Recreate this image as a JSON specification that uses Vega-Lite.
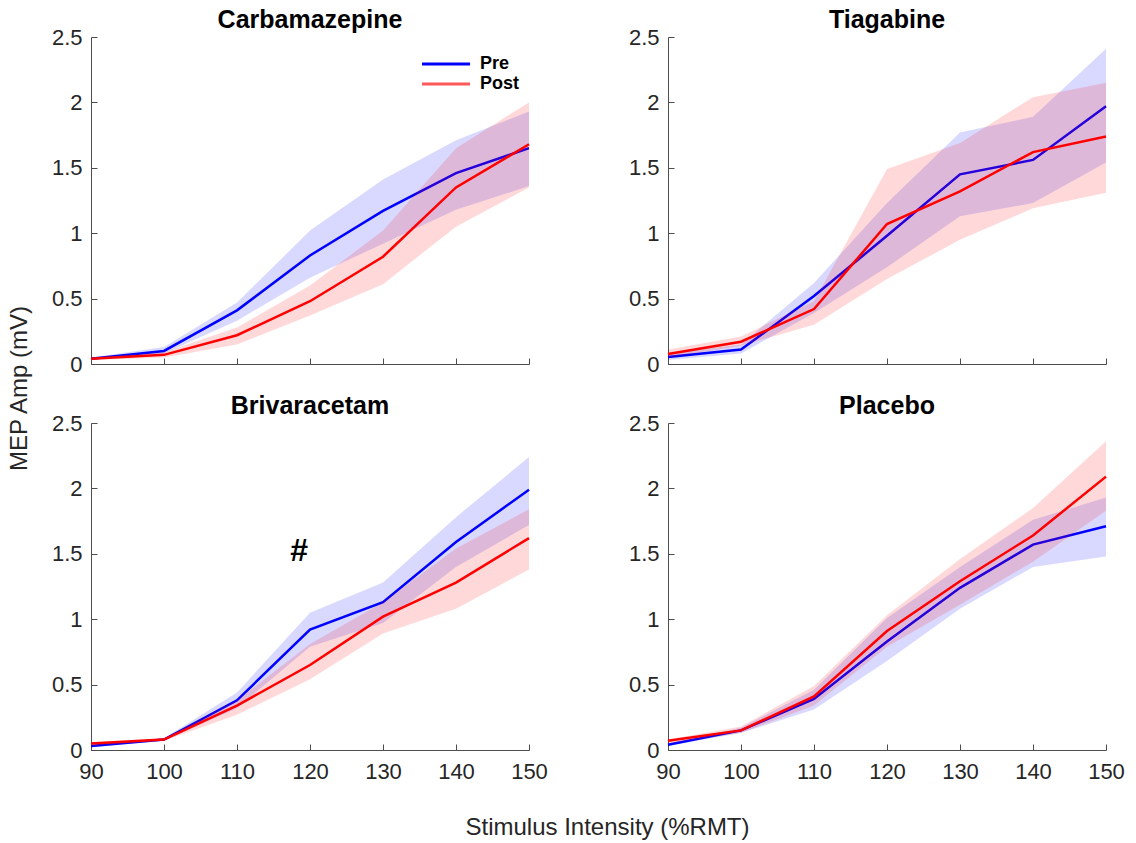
{
  "$schema": "https://vega.github.io/schema/vega-lite/v6.json",
  "padding": {"left": 7, "top": 8, "right": 5, "bottom": 5},
  "background": "white",
  "config": {
    "font": "Liberation Sans",
    "view": {"stroke": null},
    "axis": {
      "grid": false,
      "domainColor": "#4d4d4d",
      "tickColor": "#4d4d4d",
      "domainWidth": 1,
      "tickWidth": 1,
      "tickSize": -6,
      "labelColor": "#262626",
      "labelFont": "Liberation Sans",
      "labelFontSize": 22,
      "labelFlush": false,
      "titleColor": "#262626",
      "titleFont": "Liberation Sans",
      "titleFontSize": 24,
      "titleFontWeight": "normal"
    },
    "axisX": {"labelPadding": 17},
    "axisY": {"labelPadding": 15},
    "title": {"font": "Liberation Sans", "fontSize": 25, "fontWeight": "bold", "color": "#000000", "offset": -7, "frame": "group"}
  },
  "datasets": {
    "mep": [
      {"drug": "Carbamazepine", "group": "Pre", "x": 90, "y": 0.04, "lo": 0.03, "hi": 0.05},
      {"drug": "Carbamazepine", "group": "Pre", "x": 100, "y": 0.10, "lo": 0.08, "hi": 0.13},
      {"drug": "Carbamazepine", "group": "Pre", "x": 110, "y": 0.41, "lo": 0.33, "hi": 0.47},
      {"drug": "Carbamazepine", "group": "Pre", "x": 120, "y": 0.83, "lo": 0.66, "hi": 1.02},
      {"drug": "Carbamazepine", "group": "Pre", "x": 130, "y": 1.17, "lo": 0.92, "hi": 1.41},
      {"drug": "Carbamazepine", "group": "Pre", "x": 140, "y": 1.46, "lo": 1.18, "hi": 1.71},
      {"drug": "Carbamazepine", "group": "Pre", "x": 150, "y": 1.65, "lo": 1.36, "hi": 1.93},
      {"drug": "Carbamazepine", "group": "Post", "x": 90, "y": 0.04, "lo": 0.03, "hi": 0.05},
      {"drug": "Carbamazepine", "group": "Post", "x": 100, "y": 0.07, "lo": 0.05, "hi": 0.09},
      {"drug": "Carbamazepine", "group": "Post", "x": 110, "y": 0.22, "lo": 0.15, "hi": 0.28},
      {"drug": "Carbamazepine", "group": "Post", "x": 120, "y": 0.48, "lo": 0.37, "hi": 0.60},
      {"drug": "Carbamazepine", "group": "Post", "x": 130, "y": 0.82, "lo": 0.61, "hi": 1.02},
      {"drug": "Carbamazepine", "group": "Post", "x": 140, "y": 1.35, "lo": 1.05, "hi": 1.65},
      {"drug": "Carbamazepine", "group": "Post", "x": 150, "y": 1.68, "lo": 1.35, "hi": 2.00},
      {"drug": "Tiagabine", "group": "Pre", "x": 90, "y": 0.054, "lo": 0.03, "hi": 0.08},
      {"drug": "Tiagabine", "group": "Pre", "x": 100, "y": 0.11, "lo": 0.08, "hi": 0.15},
      {"drug": "Tiagabine", "group": "Pre", "x": 110, "y": 0.52, "lo": 0.39, "hi": 0.62},
      {"drug": "Tiagabine", "group": "Pre", "x": 120, "y": 0.98, "lo": 0.74, "hi": 1.23},
      {"drug": "Tiagabine", "group": "Pre", "x": 130, "y": 1.45, "lo": 1.13, "hi": 1.77},
      {"drug": "Tiagabine", "group": "Pre", "x": 140, "y": 1.56, "lo": 1.23, "hi": 1.89},
      {"drug": "Tiagabine", "group": "Pre", "x": 150, "y": 1.97, "lo": 1.54, "hi": 2.41},
      {"drug": "Tiagabine", "group": "Post", "x": 90, "y": 0.077, "lo": 0.05, "hi": 0.11},
      {"drug": "Tiagabine", "group": "Post", "x": 100, "y": 0.17, "lo": 0.14, "hi": 0.21},
      {"drug": "Tiagabine", "group": "Post", "x": 110, "y": 0.42, "lo": 0.30, "hi": 0.48},
      {"drug": "Tiagabine", "group": "Post", "x": 120, "y": 1.07, "lo": 0.65, "hi": 1.49},
      {"drug": "Tiagabine", "group": "Post", "x": 130, "y": 1.32, "lo": 0.95, "hi": 1.69},
      {"drug": "Tiagabine", "group": "Post", "x": 140, "y": 1.62, "lo": 1.19, "hi": 2.04},
      {"drug": "Tiagabine", "group": "Post", "x": 150, "y": 1.74, "lo": 1.31, "hi": 2.15},
      {"drug": "Brivaracetam", "group": "Pre", "x": 90, "y": 0.03, "lo": 0.02, "hi": 0.04},
      {"drug": "Brivaracetam", "group": "Pre", "x": 100, "y": 0.08, "lo": 0.07, "hi": 0.09},
      {"drug": "Brivaracetam", "group": "Pre", "x": 110, "y": 0.38, "lo": 0.32, "hi": 0.44},
      {"drug": "Brivaracetam", "group": "Pre", "x": 120, "y": 0.92, "lo": 0.79, "hi": 1.05},
      {"drug": "Brivaracetam", "group": "Pre", "x": 130, "y": 1.13, "lo": 0.97, "hi": 1.28},
      {"drug": "Brivaracetam", "group": "Pre", "x": 140, "y": 1.59, "lo": 1.40, "hi": 1.78},
      {"drug": "Brivaracetam", "group": "Pre", "x": 150, "y": 1.99, "lo": 1.72, "hi": 2.24},
      {"drug": "Brivaracetam", "group": "Post", "x": 90, "y": 0.05, "lo": 0.03, "hi": 0.06},
      {"drug": "Brivaracetam", "group": "Post", "x": 100, "y": 0.08, "lo": 0.07, "hi": 0.09},
      {"drug": "Brivaracetam", "group": "Post", "x": 110, "y": 0.34, "lo": 0.27, "hi": 0.38},
      {"drug": "Brivaracetam", "group": "Post", "x": 120, "y": 0.65, "lo": 0.54, "hi": 0.81},
      {"drug": "Brivaracetam", "group": "Post", "x": 130, "y": 1.02, "lo": 0.89, "hi": 1.13},
      {"drug": "Brivaracetam", "group": "Post", "x": 140, "y": 1.28, "lo": 1.08, "hi": 1.54},
      {"drug": "Brivaracetam", "group": "Post", "x": 150, "y": 1.62, "lo": 1.38, "hi": 1.84},
      {"drug": "Placebo", "group": "Pre", "x": 90, "y": 0.04, "lo": 0.03, "hi": 0.05},
      {"drug": "Placebo", "group": "Pre", "x": 100, "y": 0.15, "lo": 0.13, "hi": 0.17},
      {"drug": "Placebo", "group": "Pre", "x": 110, "y": 0.39, "lo": 0.31, "hi": 0.46},
      {"drug": "Placebo", "group": "Pre", "x": 120, "y": 0.83, "lo": 0.68, "hi": 1.01},
      {"drug": "Placebo", "group": "Pre", "x": 130, "y": 1.24, "lo": 1.08, "hi": 1.40},
      {"drug": "Placebo", "group": "Pre", "x": 140, "y": 1.57, "lo": 1.40, "hi": 1.76},
      {"drug": "Placebo", "group": "Pre", "x": 150, "y": 1.71, "lo": 1.48, "hi": 1.93},
      {"drug": "Placebo", "group": "Post", "x": 90, "y": 0.07, "lo": 0.05, "hi": 0.08},
      {"drug": "Placebo", "group": "Post", "x": 100, "y": 0.15, "lo": 0.13, "hi": 0.18},
      {"drug": "Placebo", "group": "Post", "x": 110, "y": 0.41, "lo": 0.34, "hi": 0.49},
      {"drug": "Placebo", "group": "Post", "x": 120, "y": 0.91, "lo": 0.79, "hi": 1.03},
      {"drug": "Placebo", "group": "Post", "x": 130, "y": 1.29, "lo": 1.11, "hi": 1.46},
      {"drug": "Placebo", "group": "Post", "x": 140, "y": 1.64, "lo": 1.44, "hi": 1.85},
      {"drug": "Placebo", "group": "Post", "x": 150, "y": 2.09, "lo": 1.83, "hi": 2.36}
    ],
    "ann": [{"x": 118.5, "y": 1.52, "t": "#"}]
  },
  "resolve": {"scale": {"stroke": "independent"}, "legend": {"stroke": "independent"}},
  "columns": 2,
  "spacing": {"row": 59, "column": 139},
  "bounds": "flush",
  "concat": [
    {
      "width": 438, "height": 327,
      "title": "Carbamazepine",
      "data": {"name": "mep"},
      "encoding": {
        "x": {"field": "x", "type": "quantitative", "scale": {"domain": [90, 150]}, "axis": {"values": [90, 100, 110, 120, 130, 140, 150], "labels": false, "title": null}}
      },
      "layer": [
        {"transform": [{"filter": "datum.drug === 'Carbamazepine' && datum.group === 'Pre'"}],
         "mark": {"type": "area", "fill": "#0000ff", "fillOpacity": 0.15},
         "encoding": {"y": {"field": "lo", "type": "quantitative", "scale": {"domain": [0, 2.5]}, "axis": {"values": [0, 0.5, 1, 1.5, 2, 2.5], "format": "~g", "title": "MEP Amp (mV)", "titleX": -72, "titleY": 351, "titleAngle": 270, "titleAlign": "center", "titleBaseline": "middle"}}, "y2": {"field": "hi"}}},
        {"transform": [{"filter": "datum.drug === 'Carbamazepine' && datum.group === 'Pre'"}],
         "mark": {"type": "line", "strokeWidth": 2.5},
         "encoding": {"y": {"field": "y", "type": "quantitative", "scale": {"domain": [0, 2.5]}, "axis": {"values": [0, 0.5, 1, 1.5, 2, 2.5], "format": "~g", "title": "MEP Amp (mV)", "titleX": -72, "titleY": 351, "titleAngle": 270, "titleAlign": "center", "titleBaseline": "middle"}},
           "stroke": {"field": "group", "type": "nominal", "scale": {"domain": ["Pre", "Post"], "range": ["#0000ff", "#ff0000"]},
             "legend": {"title": null, "orient": "none", "legendX": 346, "legendY": 18, "symbolType": "M-4.8,0H4.8", "symbolSize": 100, "symbolStrokeWidth": 3, "labelFontSize": 18, "labelFontWeight": "bold", "labelColor": "#000000", "labelFont": "Liberation Sans", "labelOffset": 25, "rowPadding": 2, "padding": 0,
               "encode": {"symbols": {"update": {"opacity": {"signal": "datum.value === 'Post' ? 0.65 : 1"}}}}}}}},
        {"transform": [{"filter": "datum.drug === 'Carbamazepine' && datum.group === 'Post'"}],
         "mark": {"type": "area", "fill": "#ff0000", "fillOpacity": 0.15},
         "encoding": {"y": {"field": "lo", "type": "quantitative", "scale": {"domain": [0, 2.5]}, "axis": {"values": [0, 0.5, 1, 1.5, 2, 2.5], "format": "~g", "title": "MEP Amp (mV)", "titleX": -72, "titleY": 351, "titleAngle": 270, "titleAlign": "center", "titleBaseline": "middle"}}, "y2": {"field": "hi"}}},
        {"transform": [{"filter": "datum.drug === 'Carbamazepine' && datum.group === 'Post'"}],
         "mark": {"type": "line", "strokeWidth": 2.5},
         "encoding": {"y": {"field": "y", "type": "quantitative", "scale": {"domain": [0, 2.5]}, "axis": {"values": [0, 0.5, 1, 1.5, 2, 2.5], "format": "~g", "title": "MEP Amp (mV)", "titleX": -72, "titleY": 351, "titleAngle": 270, "titleAlign": "center", "titleBaseline": "middle"}},
           "stroke": {"field": "group", "type": "nominal", "scale": {"domain": ["Pre", "Post"], "range": ["#0000ff", "#ff0000"]},
             "legend": {"title": null, "orient": "none", "legendX": 346, "legendY": 18, "symbolType": "M-4.8,0H4.8", "symbolSize": 100, "symbolStrokeWidth": 3, "labelFontSize": 18, "labelFontWeight": "bold", "labelColor": "#000000", "labelFont": "Liberation Sans", "labelOffset": 25, "rowPadding": 2, "padding": 0,
               "encode": {"symbols": {"update": {"opacity": {"signal": "datum.value === 'Post' ? 0.65 : 1"}}}}}}}}
      ]
    },
    {
      "width": 438, "height": 327,
      "title": "Tiagabine",
      "data": {"name": "mep"},
      "encoding": {
        "x": {"field": "x", "type": "quantitative", "scale": {"domain": [90, 150]}, "axis": {"values": [90, 100, 110, 120, 130, 140, 150], "labels": false, "title": null}}
      },
      "layer": [
        {"transform": [{"filter": "datum.drug === 'Tiagabine' && datum.group === 'Pre'"}],
         "mark": {"type": "area", "fill": "#0000ff", "fillOpacity": 0.15},
         "encoding": {"y": {"field": "lo", "type": "quantitative", "scale": {"domain": [0, 2.5]}, "axis": {"values": [0, 0.5, 1, 1.5, 2, 2.5], "format": "~g", "title": null}}, "y2": {"field": "hi"}}},
        {"transform": [{"filter": "datum.drug === 'Tiagabine' && datum.group === 'Pre'"}],
         "mark": {"type": "line", "strokeWidth": 2.5},
         "encoding": {"y": {"field": "y", "type": "quantitative", "scale": {"domain": [0, 2.5]}, "axis": {"values": [0, 0.5, 1, 1.5, 2, 2.5], "format": "~g", "title": null}},
           "stroke": {"field": "group", "type": "nominal", "scale": {"domain": ["Pre", "Post"], "range": ["#0000ff", "#ff0000"]}, "legend": null}}},
        {"transform": [{"filter": "datum.drug === 'Tiagabine' && datum.group === 'Post'"}],
         "mark": {"type": "area", "fill": "#ff0000", "fillOpacity": 0.15},
         "encoding": {"y": {"field": "lo", "type": "quantitative", "scale": {"domain": [0, 2.5]}, "axis": {"values": [0, 0.5, 1, 1.5, 2, 2.5], "format": "~g", "title": null}}, "y2": {"field": "hi"}}},
        {"transform": [{"filter": "datum.drug === 'Tiagabine' && datum.group === 'Post'"}],
         "mark": {"type": "line", "strokeWidth": 2.5},
         "encoding": {"y": {"field": "y", "type": "quantitative", "scale": {"domain": [0, 2.5]}, "axis": {"values": [0, 0.5, 1, 1.5, 2, 2.5], "format": "~g", "title": null}},
           "stroke": {"field": "group", "type": "nominal", "scale": {"domain": ["Pre", "Post"], "range": ["#0000ff", "#ff0000"]}, "legend": null}}}
      ]
    },
    {
      "width": 438, "height": 327,
      "title": "Brivaracetam",
      "data": {"name": "mep"},
      "encoding": {
        "x": {"field": "x", "type": "quantitative", "scale": {"domain": [90, 150]}, "axis": {"values": [90, 100, 110, 120, 130, 140, 150], "format": "d", "title": "Stimulus Intensity (%RMT)", "titleX": 516, "titleY": 77, "titleAlign": "center", "titleBaseline": "middle"}}
      },
      "layer": [
        {"transform": [{"filter": "datum.drug === 'Brivaracetam' && datum.group === 'Pre'"}],
         "mark": {"type": "area", "fill": "#0000ff", "fillOpacity": 0.15},
         "encoding": {"y": {"field": "lo", "type": "quantitative", "scale": {"domain": [0, 2.5]}, "axis": {"values": [0, 0.5, 1, 1.5, 2, 2.5], "format": "~g", "title": null}}, "y2": {"field": "hi"}}},
        {"transform": [{"filter": "datum.drug === 'Brivaracetam' && datum.group === 'Pre'"}],
         "mark": {"type": "line", "strokeWidth": 2.5},
         "encoding": {"y": {"field": "y", "type": "quantitative", "scale": {"domain": [0, 2.5]}, "axis": {"values": [0, 0.5, 1, 1.5, 2, 2.5], "format": "~g", "title": null}},
           "stroke": {"field": "group", "type": "nominal", "scale": {"domain": ["Pre", "Post"], "range": ["#0000ff", "#ff0000"]}, "legend": null}}},
        {"transform": [{"filter": "datum.drug === 'Brivaracetam' && datum.group === 'Post'"}],
         "mark": {"type": "area", "fill": "#ff0000", "fillOpacity": 0.15},
         "encoding": {"y": {"field": "lo", "type": "quantitative", "scale": {"domain": [0, 2.5]}, "axis": {"values": [0, 0.5, 1, 1.5, 2, 2.5], "format": "~g", "title": null}}, "y2": {"field": "hi"}}},
        {"transform": [{"filter": "datum.drug === 'Brivaracetam' && datum.group === 'Post'"}],
         "mark": {"type": "line", "strokeWidth": 2.5},
         "encoding": {"y": {"field": "y", "type": "quantitative", "scale": {"domain": [0, 2.5]}, "axis": {"values": [0, 0.5, 1, 1.5, 2, 2.5], "format": "~g", "title": null}},
           "stroke": {"field": "group", "type": "nominal", "scale": {"domain": ["Pre", "Post"], "range": ["#0000ff", "#ff0000"]}, "legend": null}}},
        {"data": {"name": "ann"},
         "mark": {"type": "text", "fontSize": 32, "fontWeight": "bold", "font": "Liberation Sans", "color": "#000000", "baseline": "middle", "align": "center"},
         "encoding": {"y": {"field": "y", "type": "quantitative", "scale": {"domain": [0, 2.5]}, "axis": {"values": [0, 0.5, 1, 1.5, 2, 2.5], "format": "~g", "title": null}}, "text": {"field": "t"}}}
      ]
    },
    {
      "width": 438, "height": 327,
      "title": "Placebo",
      "data": {"name": "mep"},
      "encoding": {
        "x": {"field": "x", "type": "quantitative", "scale": {"domain": [90, 150]}, "axis": {"values": [90, 100, 110, 120, 130, 140, 150], "format": "d", "title": null}}
      },
      "layer": [
        {"transform": [{"filter": "datum.drug === 'Placebo' && datum.group === 'Pre'"}],
         "mark": {"type": "area", "fill": "#0000ff", "fillOpacity": 0.15},
         "encoding": {"y": {"field": "lo", "type": "quantitative", "scale": {"domain": [0, 2.5]}, "axis": {"values": [0, 0.5, 1, 1.5, 2, 2.5], "format": "~g", "title": null}}, "y2": {"field": "hi"}}},
        {"transform": [{"filter": "datum.drug === 'Placebo' && datum.group === 'Pre'"}],
         "mark": {"type": "line", "strokeWidth": 2.5},
         "encoding": {"y": {"field": "y", "type": "quantitative", "scale": {"domain": [0, 2.5]}, "axis": {"values": [0, 0.5, 1, 1.5, 2, 2.5], "format": "~g", "title": null}},
           "stroke": {"field": "group", "type": "nominal", "scale": {"domain": ["Pre", "Post"], "range": ["#0000ff", "#ff0000"]}, "legend": null}}},
        {"transform": [{"filter": "datum.drug === 'Placebo' && datum.group === 'Post'"}],
         "mark": {"type": "area", "fill": "#ff0000", "fillOpacity": 0.15},
         "encoding": {"y": {"field": "lo", "type": "quantitative", "scale": {"domain": [0, 2.5]}, "axis": {"values": [0, 0.5, 1, 1.5, 2, 2.5], "format": "~g", "title": null}}, "y2": {"field": "hi"}}},
        {"transform": [{"filter": "datum.drug === 'Placebo' && datum.group === 'Post'"}],
         "mark": {"type": "line", "strokeWidth": 2.5},
         "encoding": {"y": {"field": "y", "type": "quantitative", "scale": {"domain": [0, 2.5]}, "axis": {"values": [0, 0.5, 1, 1.5, 2, 2.5], "format": "~g", "title": null}},
           "stroke": {"field": "group", "type": "nominal", "scale": {"domain": ["Pre", "Post"], "range": ["#0000ff", "#ff0000"]}, "legend": null}}}
      ]
    }
  ]
}
